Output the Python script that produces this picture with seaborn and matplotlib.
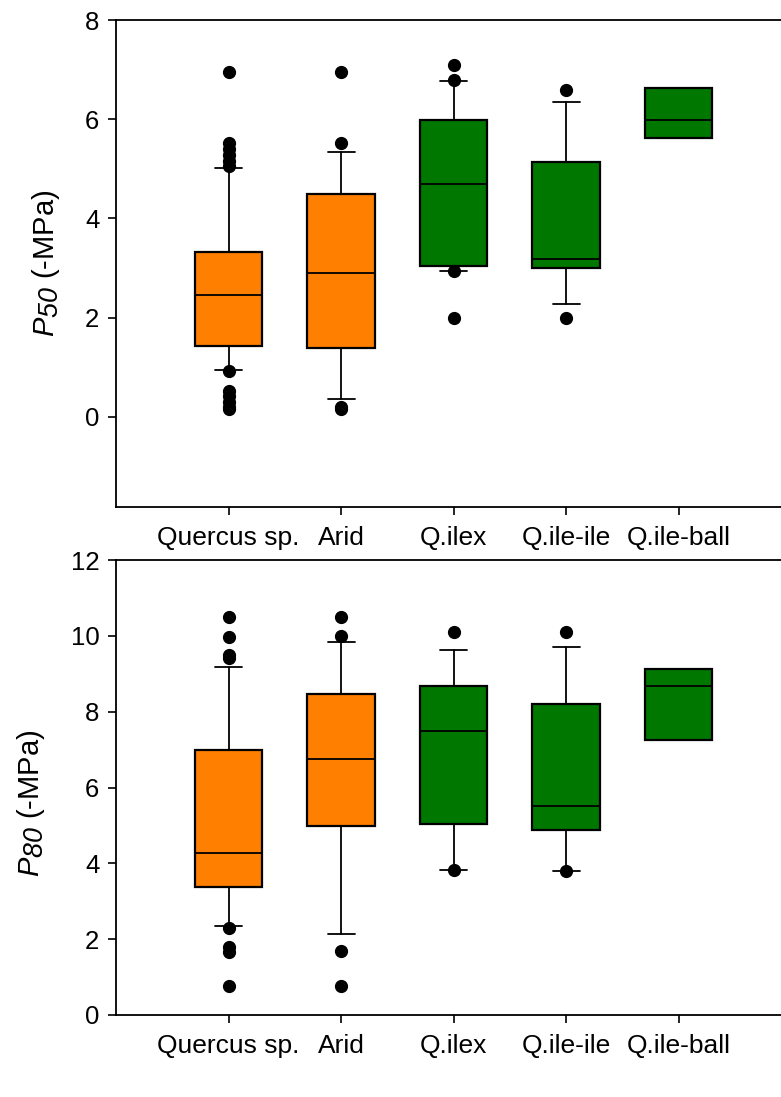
import matplotlib
matplotlib.use("Agg")
import matplotlib.pyplot as plt
import matplotlib._mathtext as _mt
import seaborn as sns

categories = ["Quercus sp.", "Arid", "Q.ilex", "Q.ile-ile", "Q.ile-ball"]
box_colors = ["#FF8000", "#FF8000", "#007800", "#007800", "#007800"]

# P50 (-MPa) box statistics
p50_q1 = [1.43, 1.38, 3.03, 2.99, 5.62]
p50_med = [2.45, 2.89, 4.70, 3.18, 5.99]
p50_q3 = [3.32, 4.50, 5.98, 5.13, 6.63]
p50_wlo = [0.94, 0.36, 2.94, 2.28, 5.62]
p50_whi = [5.01, 5.34, 6.76, 6.35, 6.63]
p50_fliers = [
    [6.96, 5.51, 5.40, 5.28, 5.15, 5.06, 0.93, 0.52, 0.42, 0.30, 0.20, 0.15],
    [6.96, 5.51, 0.20, 0.15],
    [7.09, 6.79, 2.94, 2.00],
    [6.59, 2.00],
    [],
]

# P80 (-MPa) box statistics
p80_q1 = [3.38, 4.98, 5.05, 4.89, 7.24]
p80_med = [4.28, 6.74, 7.49, 5.50, 8.69]
p80_q3 = [6.99, 8.46, 8.69, 8.19, 9.13]
p80_wlo = [2.36, 2.13, 3.82, 3.81, 7.24]
p80_whi = [9.19, 9.85, 9.63, 9.71, 9.13]
p80_fliers = [
    [10.50, 9.98, 9.49, 9.41, 2.30, 1.80, 1.67, 0.77],
    [10.50, 10.00, 1.70, 0.77],
    [10.11, 3.82],
    [10.11, 3.81],
    [],
]

sns.set_style("ticks")
plt.rcParams["font.family"] = ["Liberation Sans", "DejaVu Sans"]
plt.rcParams["mathtext.fontset"] = "custom"
plt.rcParams["mathtext.it"] = "Liberation Sans:italic"
plt.rcParams["mathtext.rm"] = "Liberation Sans:italic"
for k in ["text.color", "axes.labelcolor", "xtick.color", "ytick.color", "axes.edgecolor"]:
    plt.rcParams[k] = "black"
# subscripts in the reference are nearly full size
_mt.SHRINK_FACTOR = 0.92

fig = plt.figure(figsize=(7.81, 10.97), dpi=100)
W, H = 781, 1097
ax1 = fig.add_axes([116 / W, (H - 507) / H, 675 / W, 487 / H])
ax2 = fig.add_axes([116 / W, (H - 1015) / H, 675 / W, 455 / H])


def draw(ax, q1, med, q3, wlo, whi, fliers, ylim, yticks, ylabel, label_xy):
    stats = []
    for i, c in enumerate(categories):
        stats.append(dict(label=c, q1=q1[i], med=med[i], q3=q3[i],
                          whislo=wlo[i], whishi=whi[i], fliers=fliers[i]))
    positions = list(range(1, len(categories) + 1))
    bp = ax.bxp(stats, positions=positions, widths=0.6, capwidths=0.24,
                patch_artist=True, showfliers=True,
                boxprops=dict(linewidth=1.6, edgecolor="black"),
                medianprops=dict(color="black", linewidth=1.3),
                whiskerprops=dict(color="black", linewidth=1.3),
                capprops=dict(color="black", linewidth=1.3),
                flierprops=dict(marker="o", markerfacecolor="black",
                                markeredgecolor="black", markersize=8.5,
                                linestyle="none"))
    for patch, col in zip(bp["boxes"], box_colors):
        patch.set_facecolor(col)
    # last group has no whiskers
    for art in (bp["caps"][8], bp["caps"][9]):
        art.set_visible(False)
    for f in bp["fliers"]:
        f.set_zorder(5)
    ax.set_xlim(0, 6)
    ax.set_ylim(*ylim)
    ax.set_yticks(yticks)
    ax.set_xticks(positions)
    ax.set_xticklabels(categories, fontsize=19)
    ax.tick_params(axis="y", labelsize=18.5, length=6, width=1.2, pad=6, direction="out")
    ax.tick_params(axis="x", length=6, width=1.2, pad=8, direction="out")
    for s in ["left", "bottom", "top"]:
        ax.spines[s].set_linewidth(1.3)
        ax.spines[s].set_color("black")
    ax.spines["right"].set_visible(False)
    ax.set_ylabel(ylabel, fontsize=21)
    ax.yaxis.set_label_coords(*label_xy)


draw(ax1, p50_q1, p50_med, p50_q3, p50_wlo, p50_whi, p50_fliers,
     (-1.82, 8), [0, 2, 4, 6, 8], r"$\mathit{P}_{\mathrm{50}}$ (-MPa)", (-0.080, 0.5))
draw(ax2, p80_q1, p80_med, p80_q3, p80_wlo, p80_whi, p80_fliers,
     (0, 12), [0, 2, 4, 6, 8, 10, 12], r"$\mathit{P}_{\mathrm{80}}$ (-MPa)", (-0.102, 0.466))

fig.savefig("out.png", dpi=100)
